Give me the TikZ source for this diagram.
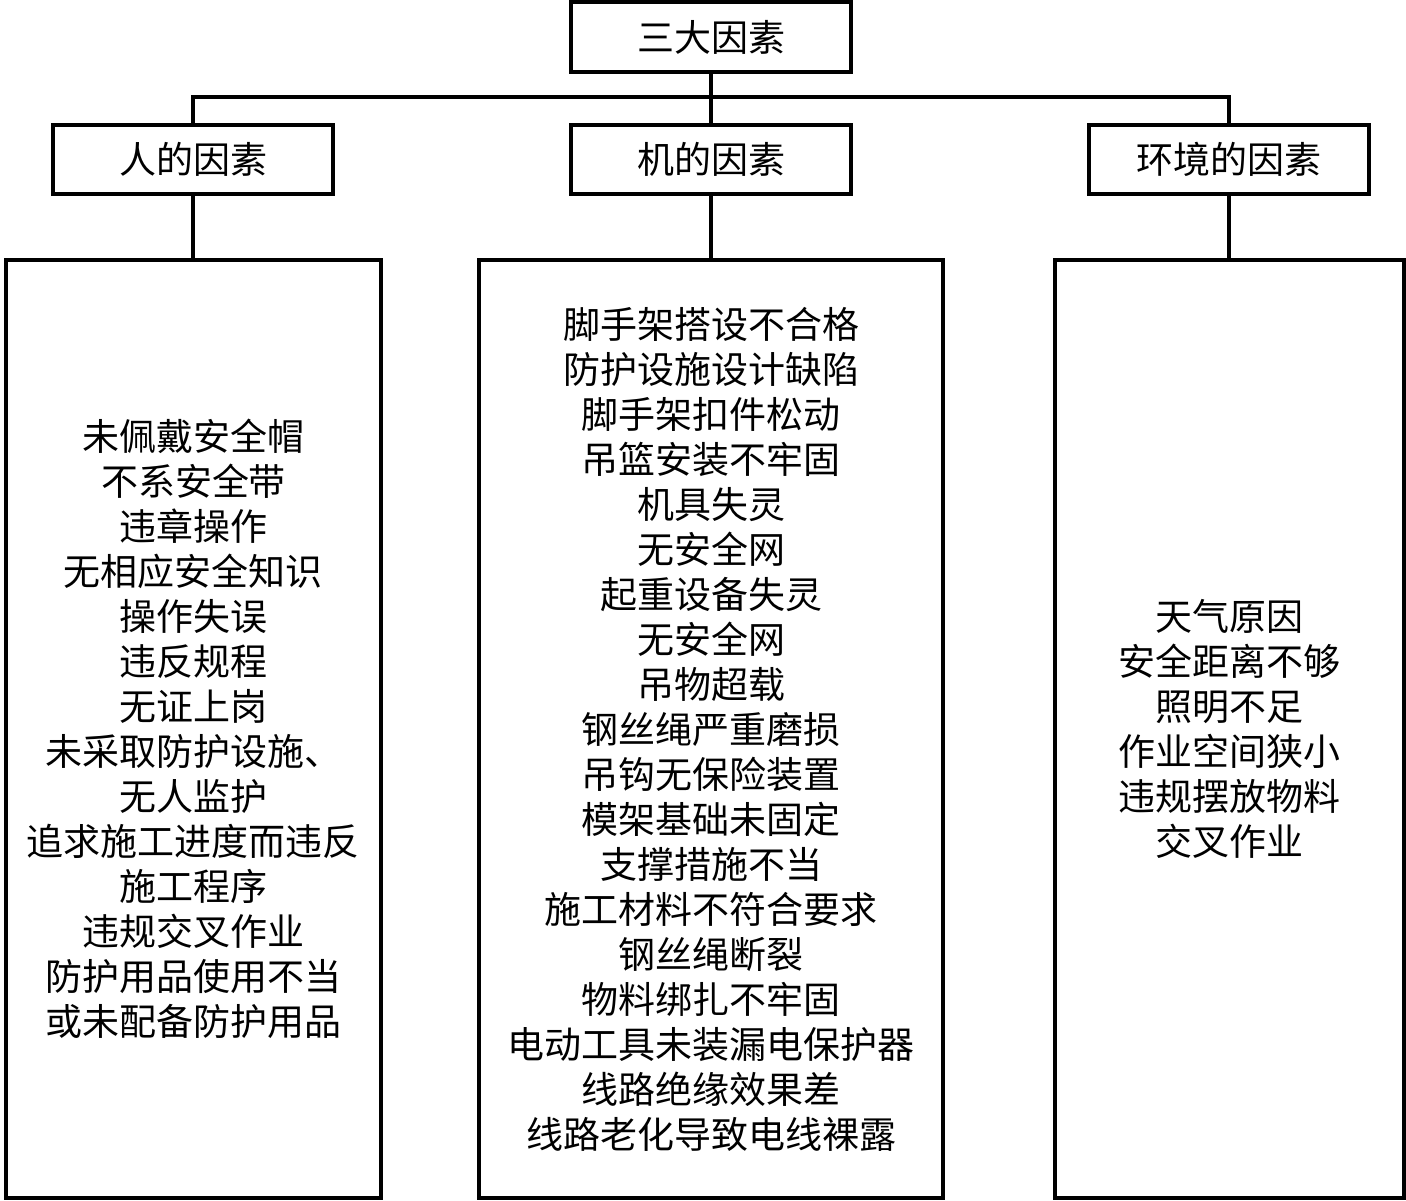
\documentclass[tikz,border=0pt]{standalone}
\usepackage{fontspec}
\setmainfont{Noto Sans CJK SC}
\newfontfamily\cjk{Noto Sans CJK SC}
\begin{document}
\begin{tikzpicture}[x=1pt,y=-1pt,
  box/.style={draw=black,line width=4pt,fill=white,inner sep=0pt,align=center,
    font=\cjk\fontsize{37}{45}\selectfont},
  conn/.style={draw=black,line width=3.5pt}]
\useasboundingbox[fill=white] (0,0) rectangle (1406,1201);
\node[box,minimum width=280,minimum height=70] (top) at (711,37) {三大因素};
\node[box,minimum width=280,minimum height=69] (ren) at (193,159.5) {人的因素};
\node[box,minimum width=280,minimum height=69] (ji) at (711,159.5) {机的因素};
\node[box,minimum width=280,minimum height=69] (env) at (1229,159.5) {环境的因素};
\node[box,minimum width=375,minimum height=938] (renl) at (193.5,729) {未佩戴安全帽\\不系安全带\\违章操作\\无相应安全知识\\操作失误\\违反规程\\无证上岗\\未采取防护设施、\\无人监护\\追求施工进度而违反\\施工程序\\违规交叉作业\\防护用品使用不当\\或未配备防护用品};
\node[box,minimum width=464,minimum height=938] (jil) at (711,729) {脚手架搭设不合格\\防护设施设计缺陷\\脚手架扣件松动\\吊篮安装不牢固\\机具失灵\\无安全网\\起重设备失灵\\无安全网\\吊物超载\\钢丝绳严重磨损\\吊钩无保险装置\\模架基础未固定\\支撑措施不当\\施工材料不符合要求\\钢丝绳断裂\\物料绑扎不牢固\\电动工具未装漏电保护器\\线路绝缘效果差\\线路老化导致电线裸露};
\node[box,minimum width=349,minimum height=938] (envl) at (1229.5,729) {天气原因\\安全距离不够\\照明不足\\作业空间狭小\\违规摆放物料\\交叉作业};
\coordinate (j) at (711,97);
\draw[conn] (top.south) -- (ji.north);
\draw[conn] (ren.north) -- (ren.north |- j) -- (env.north |- j) -- (env.north);
\draw[conn] (ren.south) -- (ren.south |- renl.north);
\draw[conn] (ji.south) -- (jil.north);
\draw[conn] (env.south) -- (env.south |- envl.north);
\end{tikzpicture}
\end{document}
